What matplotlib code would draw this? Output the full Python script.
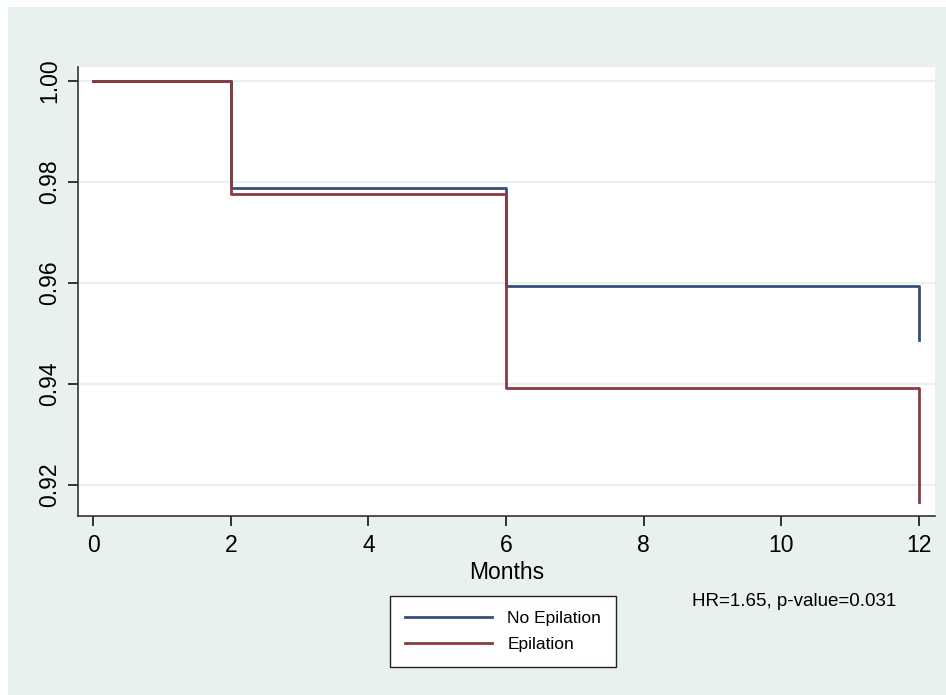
# Kaplan-Meier style plot: epilation vs no epilation
import numpy as np
import matplotlib
matplotlib.use("Agg")
import matplotlib.pyplot as plt
from matplotlib.patches import Rectangle

plt.rcParams['font.family'] = ['Liberation Sans', 'DejaVu Sans']

months = [0, 2, 6, 12]
surv_no_epil = [1.0, 0.9788, 0.9595, 0.9487]
surv_epil = [1.0, 0.9777, 0.9392, 0.9166]
labels = ["No Epilation", "Epilation"]
y_ticks = [0.92, 0.94, 0.96, 0.98, 1.00]
x_ticks = [0, 2, 4, 6, 8, 10, 12]
hr_text = "HR=1.65, p-value=0.031"

bg = "#e8f0f0"
blue = "#34507a"
red = "#8b3a42"

W, H = 946, 695
fig = plt.figure(figsize=(W / 100, H / 100), dpi=100)
fig.patch.set_facecolor("white")
fig.patches.append(Rectangle((8 / W, 0), 1, 1 - 7 / H, transform=fig.transFigure,
                             facecolor=bg, edgecolor="none", zorder=-5))

ax = fig.add_axes([78 / W, 1 - 516 / H, (935 - 78) / W, (516 - 67) / H])
ax.set_facecolor("white")


def km_path(t, s):
    xs = np.repeat(t, 2)[1:]
    ys = np.repeat(s, 2)[:-1]
    return xs, ys


x1, y1 = km_path(months, surv_no_epil)
x2, y2 = km_path(months, surv_epil)
ax.plot(x1, y1, color=blue, lw=2.0, label=labels[0], zorder=3)
ax.plot(x2, y2, color=red, lw=2.0, label=labels[1], zorder=4)

ax.set_xlim(-0.22, 12.23)
ax.set_ylim(0.9139, 1.0028)
ax.set_xticks(x_ticks)
ax.set_yticks(y_ticks)
ax.set_yticklabels(["%.2f" % v for v in y_ticks], rotation=90, va="center")
ax.tick_params(axis="both", labelsize=16.5, length=7, width=1.3, color="#222222")
ax.tick_params(axis="y", pad=5)
ax.tick_params(axis="x", pad=6)
ax.grid(axis="y", color="#e8f0f0", lw=1.6, zorder=1)
for side in ["top", "right"]:
    ax.spines[side].set_visible(False)
for side in ["left", "bottom"]:
    ax.spines[side].set_color("#333333")
    ax.spines[side].set_linewidth(1.2)

ax.set_xlabel("Months", fontsize=16.5, labelpad=3)

leg = fig.legend(loc="upper left", bbox_to_anchor=(390 / W, 1 - 596 / H),
                 fontsize=12.5, frameon=True, fancybox=False, framealpha=1,
                 edgecolor="#222222", handlelength=5.0, handletextpad=0.9,
                 borderpad=0.85, labelspacing=0.62, borderaxespad=0)
leg.get_frame().set_linewidth(1.0)

fig.text(692 / W, 1 - 601 / H, hr_text, fontsize=13.5, va="center", ha="left")

fig.savefig("out.png", dpi=100)
